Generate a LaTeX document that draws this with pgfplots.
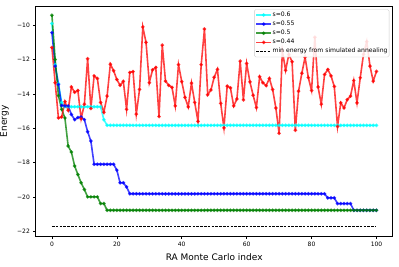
\documentclass[border=0pt]{standalone}
\usepackage{fontspec}
\setmainfont{DejaVu Sans}
\usepackage{pgfplots}
\pgfplotsset{compat=1.18}
\definecolor{mcyan}{rgb}{0,1,1}
\definecolor{mblue}{rgb}{0,0,1}
\definecolor{mgreen}{rgb}{0,0.5,0}
\definecolor{mred}{rgb}{1,0,0}
\begin{document}
\begin{tikzpicture}
\path[use as bounding box] (0,0) rectangle (399pt,266pt);
\begin{axis}[
  at={(35.7pt,29.3pt)}, anchor=south west,
  scale only axis, width=357pt, height=230.7pt,
  xmin=-5, xmax=105, ymin=-22.32, ymax=-8.88,
  xtick={0,20,40,60,80,100},
  ytick={-22,-20,-18,-16,-14,-12,-10},
  yticklabels={−22,−20,−18,−16,−14,−12,−10},
  tick align=outside, major tick length=2.3pt,
  xtick pos=left, ytick pos=left,
  tick style={black, line width=0.5pt},
  ticklabel style={font=\fontsize{6}{7}\selectfont},
  /pgf/number format/assume math mode=true,
  axis line style={black, line width=0.6pt},
  xlabel={RA Monte Carlo index}, ylabel={Energy},
  label style={font=\fontsize{9}{10}\selectfont},
  ylabel style={yshift=1.5pt},
  legend cell align=left,
  legend style={at={(1,1)}, anchor=north east, xshift=-3.4pt, yshift=-3.3pt,
    font=\fontsize{6.1}{7}\selectfont, draw=black!20, rounded corners=1.5pt,
    fill=white, fill opacity=0.85, text opacity=1, inner xsep=1pt, inner ysep=1pt,
    nodes={inner sep=0.6pt, text height=5.2pt, text depth=2.7pt}, row sep=0pt},
  legend image code/.code={\draw[mark repeat=2,mark phase=2,#1] plot coordinates {(0pt,0pt)(7.5pt,0pt)(15pt,0pt)};},
  every axis plot/.append style={line width=1.6pt, opacity=0.75, mark=*, mark size=0.85pt},
]
\addplot[mcyan, mark options={fill=mcyan, draw=mcyan}] coordinates {
(0,-9.9)(1,-12.3)(2,-13.4)(3,-14.5)(4,-14.75)(5,-14.75)(6,-14.75)(7,-14.75)(8,-14.75)(9,-14.75)
(10,-14.75)(11,-14.75)(12,-14.75)(13,-14.75)(14,-14.75)(15,-14.75)(16,-15.5)(17,-15.83)(18,-15.83)(19,-15.83)
(20,-15.83)(21,-15.83)(22,-15.83)(23,-15.83)(24,-15.83)(25,-15.83)(26,-15.83)(27,-15.83)(28,-15.83)(29,-15.83)
(30,-15.83)(31,-15.83)(32,-15.83)(33,-15.83)(34,-15.83)(35,-15.83)(36,-15.83)(37,-15.83)(38,-15.83)(39,-15.83)
(40,-15.83)(41,-15.83)(42,-15.83)(43,-15.83)(44,-15.83)(45,-15.83)(46,-15.83)(47,-15.83)(48,-15.83)(49,-15.83)
(50,-15.83)(51,-15.83)(52,-15.83)(53,-15.83)(54,-15.83)(55,-15.83)(56,-15.83)(57,-15.83)(58,-15.83)(59,-15.83)
(60,-15.83)(61,-15.83)(62,-15.83)(63,-15.83)(64,-15.83)(65,-15.83)(66,-15.83)(67,-15.83)(68,-15.83)(69,-15.83)
(70,-15.83)(71,-15.83)(72,-15.83)(73,-15.83)(74,-15.83)(75,-15.83)(76,-15.83)(77,-15.83)(78,-15.83)(79,-15.83)
(80,-15.83)(81,-15.83)(82,-15.83)(83,-15.83)(84,-15.83)(85,-15.83)(86,-15.83)(87,-15.83)(88,-15.83)(89,-15.83)
(90,-15.83)(91,-15.83)(92,-15.83)(93,-15.83)(94,-15.83)(95,-15.83)(96,-15.83)(97,-15.83)(98,-15.83)(99,-15.83)
(100,-15.83)};
\addlegendentry{s=0.6}
\addplot[mblue, mark options={fill=mblue, draw=mblue}] coordinates {
(0,-10.43)(1,-12.38)(2,-13.45)(3,-14.68)(4,-14.7)(5,-14.7)(6,-15.2)(7,-15.5)(8,-15.38)(9,-15.35)
(10,-15.5)(11,-16.2)(12,-16.75)(13,-18.1)(14,-18.1)(15,-18.1)(16,-18.1)(17,-18.1)(18,-18.1)(19,-18.1)
(20,-18.44)(21,-19.18)(22,-19.18)(23,-19.42)(24,-19.82)(25,-19.82)(26,-19.82)(27,-19.82)(28,-19.82)(29,-19.82)
(30,-19.82)(31,-19.82)(32,-19.82)(33,-19.82)(34,-19.82)(35,-19.82)(36,-19.82)(37,-19.82)(38,-19.82)(39,-19.82)
(40,-19.82)(41,-19.82)(42,-19.82)(43,-19.82)(44,-19.82)(45,-19.82)(46,-19.82)(47,-19.82)(48,-19.82)(49,-19.82)
(50,-19.82)(51,-19.82)(52,-19.82)(53,-19.82)(54,-19.82)(55,-19.82)(56,-19.82)(57,-19.82)(58,-19.82)(59,-19.82)
(60,-19.82)(61,-19.82)(62,-19.82)(63,-19.82)(64,-19.82)(65,-19.82)(66,-19.82)(67,-19.82)(68,-19.82)(69,-19.82)
(70,-19.82)(71,-19.82)(72,-19.82)(73,-19.82)(74,-19.82)(75,-19.82)(76,-19.82)(77,-19.82)(78,-19.82)(79,-19.82)
(80,-19.82)(81,-19.82)(82,-19.82)(83,-19.82)(84,-19.82)(85,-20.06)(86,-20.06)(87,-20.06)(88,-20.39)(89,-20.39)
(90,-20.39)(91,-20.39)(92,-20.39)(93,-20.78)(94,-20.78)(95,-20.78)(96,-20.78)(97,-20.78)(98,-20.78)(99,-20.78)
(100,-20.78)};
\addlegendentry{s=0.55}
\addplot[mgreen, mark options={fill=mgreen, draw=mgreen}] coordinates {
(0,-9.42)(1,-12.0)(2,-14.1)(3,-14.9)(4,-15.4)(5,-17.04)(6,-17.39)(7,-18.2)(8,-18.7)(9,-19.18)
(10,-19.57)(11,-20.0)(12,-20.0)(13,-20.0)(14,-20.0)(15,-20.39)(16,-20.39)(17,-20.78)(18,-20.78)(19,-20.78)
(20,-20.78)(21,-20.78)(22,-20.78)(23,-20.78)(24,-20.78)(25,-20.78)(26,-20.78)(27,-20.78)(28,-20.78)(29,-20.78)
(30,-20.78)(31,-20.78)(32,-20.78)(33,-20.78)(34,-20.78)(35,-20.78)(36,-20.78)(37,-20.78)(38,-20.78)(39,-20.78)
(40,-20.78)(41,-20.78)(42,-20.78)(43,-20.78)(44,-20.78)(45,-20.78)(46,-20.78)(47,-20.78)(48,-20.78)(49,-20.78)
(50,-20.78)(51,-20.78)(52,-20.78)(53,-20.78)(54,-20.78)(55,-20.78)(56,-20.78)(57,-20.78)(58,-20.78)(59,-20.78)
(60,-20.78)(61,-20.78)(62,-20.78)(63,-20.78)(64,-20.78)(65,-20.78)(66,-20.78)(67,-20.78)(68,-20.78)(69,-20.78)
(70,-20.78)(71,-20.78)(72,-20.78)(73,-20.78)(74,-20.78)(75,-20.78)(76,-20.78)(77,-20.78)(78,-20.78)(79,-20.78)
(80,-20.78)(81,-20.78)(82,-20.78)(83,-20.78)(84,-20.78)(85,-20.78)(86,-20.78)(87,-20.78)(88,-20.78)(89,-20.78)
(90,-20.78)(91,-20.78)(92,-20.78)(93,-20.78)(94,-20.78)(95,-20.78)(96,-20.78)(97,-20.78)(98,-20.78)(99,-20.78)
(100,-20.78)};
\addlegendentry{s=0.5}
\addplot[mred, mark options={fill=mred, draw=mred}] coordinates {
(0,-11.3)(1,-13.35)(2,-15.4)(3,-15.35)(4,-14.45)(5,-14.95)(6,-13.6)(7,-13.9)(8,-13.8)(9,-15.45)
(10,-14.6)(11,-11.95)(12,-14.85)(13,-12.95)(14,-13.1)(15,-14.5)(16,-15.07)(17,-14.13)(18,-12.27)(19,-12.65)
(20,-13.16)(21,-13.5)(22,-13.27)(23,-14.9)(24,-12.75)(25,-12.7)(26,-15.18)(27,-13.74)(28,-10.1)(29,-11.0)
(30,-13.35)(31,-12.6)(32,-12.46)(33,-15.32)(34,-11.16)(35,-13.26)(36,-13.5)(37,-13.62)(38,-14.7)(39,-12.3)
(40,-13.28)(41,-14.2)(42,-14.76)(43,-13.37)(44,-14.5)(45,-15.6)(46,-12.3)(47,-10.22)(48,-14.05)(49,-13.77)
(50,-13.03)(51,-12.57)(52,-14.55)(53,-15.98)(54,-13.55)(55,-13.65)(56,-14.7)(57,-14.3)(58,-12.09)(59,-14.35)
(60,-12.23)(61,-13.3)(62,-14.08)(63,-14.8)(64,-13.0)(65,-13.35)(66,-13.52)(67,-13.1)(68,-13.74)(69,-14.82)
(70,-16.3)(71,-11.5)(72,-12.63)(73,-11.7)(74,-12.13)(75,-16.12)(76,-13.84)(77,-12.8)(78,-11.86)(79,-13.05)
(80,-13.8)(81,-10.7)(82,-13.6)(83,-14.6)(84,-12.87)(85,-12.58)(86,-12.95)(87,-13.57)(88,-15.9)(89,-14.52)
(90,-14.82)(91,-14.33)(92,-14.13)(93,-13.22)(94,-14.52)(95,-13.06)(96,-11.7)(97,-10.95)(98,-12.38)(99,-13.26)
(100,-12.69)};
\addlegendentry{s=0.44}
\addplot[black, line width=0.75pt, opacity=1, mark=none, dash pattern=on 2.6pt off 1.2pt] coordinates {(0,-21.71)(100,-21.71)};
\addlegendentry{min energy from simulated annealing}
\end{axis}
\end{tikzpicture}
\end{document}
